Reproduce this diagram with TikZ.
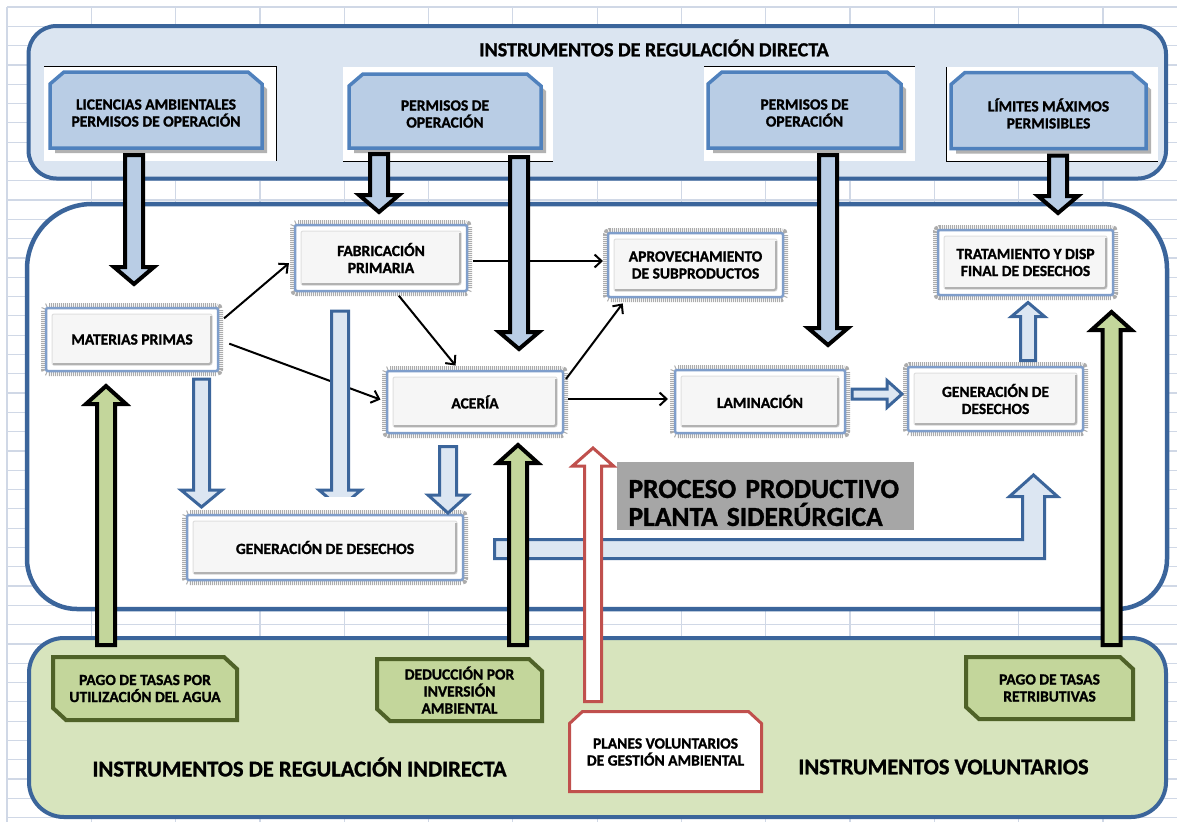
\documentclass[tikz,border=0pt]{standalone}
\usepackage{fontspec}
\setmainfont{Carlito}[BoldFeatures={FakeBold=1.2}]
\usetikzlibrary{arrows.meta,calc}
\definecolor{frameblue}{HTML}{3B659B}
\definecolor{topfill}{HTML}{DBE5F1}
\definecolor{tbfill}{HTML}{B9CDE5}
\definecolor{tbborder}{HTML}{4F81BD}
\definecolor{lightfill}{HTML}{DCE6F2}
\definecolor{procblue}{HTML}{7F9ECB}
\definecolor{gfill}{HTML}{C3D69B}
\definecolor{botfill}{HTML}{D7E4BD}
\definecolor{olivec}{HTML}{4F6228}
\definecolor{redc}{HTML}{C0504D}
\definecolor{graybox}{HTML}{A6A6A6}
\definecolor{gridc}{HTML}{D0D8E6}
\pgfdeclarelayer{back}
\pgfdeclarelayer{mid}
\pgfsetlayers{back,mid,main}
\newcommand\blockarrow[6]{%
  \draw[#1] let \p1=(#2), \p2=(#3), \n1={atan2(\y2-\y1,\x2-\x1)} in
    ($(\p1)+(\n1+90:#4)$) -- ($(\p2)+(\n1+180:#6)+(\n1+90:#4)$) --
    ($(\p2)+(\n1+180:#6)+(\n1+90:#5)$) -- (\p2) --
    ($(\p2)+(\n1+180:#6)+(\n1-90:#5)$) -- ($(\p2)+(\n1+180:#6)+(\n1-90:#4)$) --
    ($(\p1)+(\n1-90:#4)$) -- cycle;}
% outline with both upper corners cut (drawn 3pt above the text slot)
\newcommand\topcut[2]{%
  \path[#2] ([yshift=-9pt]#1.north west) -- ([xshift=14pt,yshift=3pt]#1.north west) -- ([xshift=-14pt,yshift=3pt]#1.north east)
    -- ([yshift=-9pt]#1.north east) -- ([yshift=3pt]#1.south east) -- ([yshift=3pt]#1.south west) -- cycle;}
% outline with upper right and lower left corners cut
\newcommand\diagcut[2]{%
  \path[#2] (#1.north west) -- ([xshift=-13pt]#1.north east) -- ([yshift=-12pt]#1.north east)
    -- (#1.south east) -- ([xshift=13pt]#1.south west) -- ([yshift=12pt]#1.south west) -- cycle;}
\begin{document}
\begin{tikzpicture}[x=1pt,y=-1pt,
  txt/.style={font=\bfseries\fontsize{15.5}{17}\selectfont, align=center},
  frame/.style={draw=frameblue, line width=4pt},
  slot/.style={txt, rectangle, outer sep=0pt, inner sep=0pt},
  topdraw/.style={draw=tbborder, line width=3.5pt, fill=tbfill, line join=miter},
  topshadow/.style={fill=gray!60, transform canvas={shift={(5pt,-5pt)}}},
  greendraw/.style={draw=olivec, line width=4pt, fill=gfill, line join=miter},
  reddraw/.style={draw=redc, line width=3pt, fill=white, line join=miter},
  proc/.style={txt, rectangle, draw=procblue, line width=2.5pt, fill=white, rounded corners=2pt, outer sep=0pt,
    preaction={draw=gray!65, line width=10pt, dash pattern=on 1pt off 1pt},
    path picture={
      \draw[fill=gray!7, draw=gray!25, line width=1pt]
        ($(path picture bounding box.south west)+(6pt,6pt)$) rectangle ($(path picture bounding box.north east)+(-6pt,-6pt)$);
      \draw[gray!60, line width=2pt]
        ($(path picture bounding box.south west)+(7pt,7pt)$) -- ($(path picture bounding box.south east)+(-7pt,7pt)$) -- ($(path picture bounding box.north east)+(-7pt,-8pt)$);
    }},
  thinarr/.style={draw=black, line width=2pt, -{Straight Barb[length=7pt,width=13pt]}},
  bigblue/.style={draw=black, line width=4pt, fill=tbfill, line join=miter},
  hollow/.style={draw=frameblue, line width=3pt, fill=lightfill, line join=miter},
  greenarr/.style={draw=black, line width=4pt, fill=gfill, line join=miter},
  redarr/.style={draw=redc, line width=3pt, fill=white, line join=miter},
  edge/.style={draw=black, line width=1pt}
]
\useasboundingbox (0,0) rectangle (1177,822);
\begin{pgfonlayer}{back}
\fill[white] (0,0) rectangle (1177,822);
\foreach \i in {0,...,13} \draw[gridc, line width=1.2pt] ({7+84.3*\i},7) -- ({7+84.3*\i},822);
\foreach \j in {0,...,42} \draw[gridc, line width=1.2pt] (7,{7+19.3*\j}) -- (1177,{7+19.3*\j});
\draw[frame, fill=topfill, rounded corners=28pt] (28.5,26) rectangle (1166,178.5);
\draw[frame, line width=4.5pt, fill=white] (27,400) [rounded corners=65pt] -- (27,204) -- (1167,204) -- (1167,400)
   [rounded corners=50pt] -- (1167,609) -- (27,609) -- cycle;
\draw[frame, fill=botfill, rounded corners=35pt] (29,638) rectangle (1166,817);
% white backdrops of the upper boxes
\fill[white] (44,66) rectangle (276,161);
\draw[edge] (44,66) -- (276,66) -- (276,161);
\fill[white] (343,67) rectangle (553,161);
\draw[edge] (343,161) -- (553,161);
\fill[white] (704,66) rectangle (915,161);
\draw[edge] (704,66) -- (915,66);
\fill[white] (946,67) rectangle (1158,161);
\draw[edge] (946,67) -- (946,161) -- (1158,161);
\end{pgfonlayer}

\node[font=\bfseries\fontsize{20}{22}\selectfont] (ttop) at (654,48) {INSTRUMENTOS DE REGULACIÓN DIRECTA};

% upper boxes (text slots; outlines drawn 3pt higher)
\node[slot, minimum width=212pt, minimum height=76pt] (lic) at (156,113) {LICENCIAS AMBIENTALES\\PERMISOS DE OPERACIÓN};
\node[slot, minimum width=192pt, minimum height=74pt] (per1) at (445,114) {PERMISOS DE\\OPERACIÓN};
\node[slot, minimum width=193pt, minimum height=76pt] (per2) at (804.5,113) {PERMISOS DE\\OPERACIÓN};
\node[slot, minimum width=195pt, minimum height=76pt] (lim) at (1048.5,113.5) {LÍMITES MÁXIMOS\\PERMISIBLES};

% lower boxes
\node[slot, minimum width=184pt, minimum height=63pt] (pago1) at (145,688.5) {PAGO DE TASAS POR\\UTILIZACIÓN DEL AGUA};
\node[slot, minimum width=165pt, minimum height=62pt] (ded) at (459.5,690) {DEDUCCIÓN POR\\INVERSIÓN\\AMBIENTAL};
\node[slot, minimum width=167pt, minimum height=62pt] (pago2) at (1049.5,688) {PAGO DE TASAS\\RETRIBUTIVAS};
\node[slot, minimum width=192pt, minimum height=77pt] (plan) at (665.5,752) {PLANES VOLUNTARIOS\\DE GESTIÓN AMBIENTAL};

\begin{pgfonlayer}{mid}
\foreach \n in {lic,per1,per2,lim} {\topcut{\n}{topshadow}}
\foreach \n in {lic,per1,per2,lim} {\topcut{\n}{topdraw}}
\foreach \n in {pago1,ded,pago2} {\diagcut{\n}{greendraw}}
\path[reddraw] ([yshift=-10pt]plan.north west) -- ([xshift=13pt,yshift=2pt]plan.north west) -- ([xshift=-13pt,yshift=2pt]plan.north east)
    -- ([yshift=-10pt]plan.north east) -- ([yshift=-1pt]plan.south east) -- ([yshift=-1pt]plan.south west) -- cycle;
\end{pgfonlayer}

% process boxes
\node[proc, minimum width=172pt, minimum height=63pt] (mp) at (132,339.5) {MATERIAS PRIMAS};
\node[proc, minimum width=172pt, minimum height=66pt] (fab) at (381,258) {FABRICACIÓN\\PRIMARIA};
\node[proc, minimum width=175pt, minimum height=64pt] (apr) at (695.5,265) {APROVECHAMIENTO\\DE SUBPRODUCTOS};
\node[proc, minimum width=176pt, minimum height=62pt] (ac) at (475,402) {ACERÍA};
\node[proc, minimum width=170pt, minimum height=63pt] (lam) at (760,401.5) {LAMINACIÓN};
\node[proc, minimum width=175pt, minimum height=64pt] (gen2) at (995.5,399) {GENERACIÓN DE\\DESECHOS};
\node[proc, minimum width=175pt, minimum height=65pt] (trat) at (1025.5,262.5) {TRATAMIENTO Y DISP\\FINAL DE DESECHOS};
\node[proc, minimum width=276pt, minimum height=65pt] (gen1) at (325,547.5) {GENERACIÓN DE DESECHOS};

\node[font=\bfseries\fontsize{22.5}{24}\selectfont] (lind) at (299.5,767) {INSTRUMENTOS DE REGULACIÓN INDIRECTA};
\node[font=\bfseries\fontsize{22.5}{24}\selectfont] (lvol) at (943.5,767) {INSTRUMENTOS VOLUNTARIOS};

\fill[graybox] (617,462) rectangle (914,530);
\node[text width=275pt, inner sep=0pt, align=left, font=\bfseries\fontsize{27.5}{28}\selectfont]
   (pp) at (766,503) {PROCESO PRODUCTIVO\\PLANTA SIDERÚRGICA};

% thin connectors
\draw[thinarr, shorten <=8pt, shorten >=8pt] ([yshift=16pt]mp.east) -- (fab.west);
\draw[thinarr, shorten <=12pt, shorten >=7pt] (mp.east) -- (ac.west);
\draw[thinarr, shorten <=6pt, shorten >=7pt] ([xshift=14pt]fab.south) -- ([xshift=-15pt]ac.north);
\draw[thinarr, shorten <=6pt, shorten >=5pt] ([yshift=-3pt]fab.east) -- ([yshift=-3pt]fab.east -| apr.west);
\draw[thinarr, shorten <=5pt, shorten >=8pt] ([yshift=19pt]ac.east) -- ([xshift=-68pt]apr.south);
\draw[thinarr, shorten <=5pt, shorten >=7pt] ([yshift=3pt]ac.east) -- ([yshift=3pt]ac.east -| lam.west);

% regulation arrows (top)
\blockarrow{bigblue}{[xshift=-22pt,yshift=-4pt]lic.south}{[xshift=2pt,yshift=24pt]mp.north}{9pt}{20pt}{17pt}
\blockarrow{bigblue}{[xshift=-66pt,yshift=-3pt]per1.south}{[xshift=-2pt,yshift=13pt]fab.north}{9pt}{20pt}{17pt}
\blockarrow{bigblue}{[xshift=74pt,yshift=-6pt]per1.south}{[xshift=44pt,yshift=22pt]ac.north}{9pt}{20pt}{17pt}
\blockarrow{bigblue}{[xshift=23.5pt,yshift=-4pt]per2.south}{[xshift=68pt,yshift=25pt]lam.north}{9pt}{20pt}{17pt}
\blockarrow{bigblue}{[xshift=9.5pt,yshift=-4pt]lim.south}{[xshift=32.5pt,yshift=17pt]trat.north}{9pt}{20pt}{17pt}

% waste flows
\blockarrow{hollow}{[xshift=69.5pt,yshift=-8pt]mp.south}{[xshift=-123.5pt,yshift=8pt]gen1.north}{8pt}{20.5pt}{17pt}
\begin{scope}
  \clip (0,0) rectangle (1177,496);
  \blockarrow{hollow}{[xshift=-41pt,yshift=-20pt]fab.south}{[xshift=15pt,yshift=7pt]gen1.north}{8.5pt}{21pt}{18pt}
\end{scope}
\blockarrow{hollow}{[xshift=-27pt,yshift=-13.5pt]ac.south}{[xshift=123pt,yshift=2pt]gen1.north}{8.5pt}{20pt}{18pt}
\blockarrow{hollow}{[xshift=7pt,yshift=7.5pt]lam.east}{[xshift=-6pt,yshift=5pt]gen2.west}{5pt}{13.5pt}{15pt}
\blockarrow{hollow}{[xshift=32.5pt,yshift=6.5pt]gen2.north}{[xshift=2.5pt,yshift=-7.5pt]trat.south}{7.5pt}{16.5pt}{14pt}
\draw[hollow] (494.5,539.5) -- (1022.5,539.5) -- (1022.5,496.5) -- (1009.5,496.5) -- (1033.5,475)
   -- (1057.5,496.5) -- (1044.5,496.5) -- (1044.5,558.5) -- (494.5,558.5) -- cycle;

% indirect / voluntary instruments
\blockarrow{greenarr}{[xshift=-39pt,yshift=12pt]pago1.north}{[xshift=-26pt,yshift=-15pt]mp.south}{9pt}{20pt}{18pt}
\blockarrow{greenarr}{[xshift=58.5pt,yshift=14pt]ded.north}{[xshift=43pt,yshift=-12pt]ac.south}{9pt}{20pt}{18pt}
\blockarrow{greenarr}{[xshift=62pt,yshift=12pt]pago2.north}{[xshift=86pt,yshift=-17pt]trat.south}{9pt}{20pt}{18pt}
\blockarrow{redarr}{[xshift=-72.5pt,yshift=12pt]plan.north}{[xshift=118pt,yshift=-15pt]ac.south}{8.5pt}{20.5pt}{18pt}
\end{tikzpicture}
\end{document}
